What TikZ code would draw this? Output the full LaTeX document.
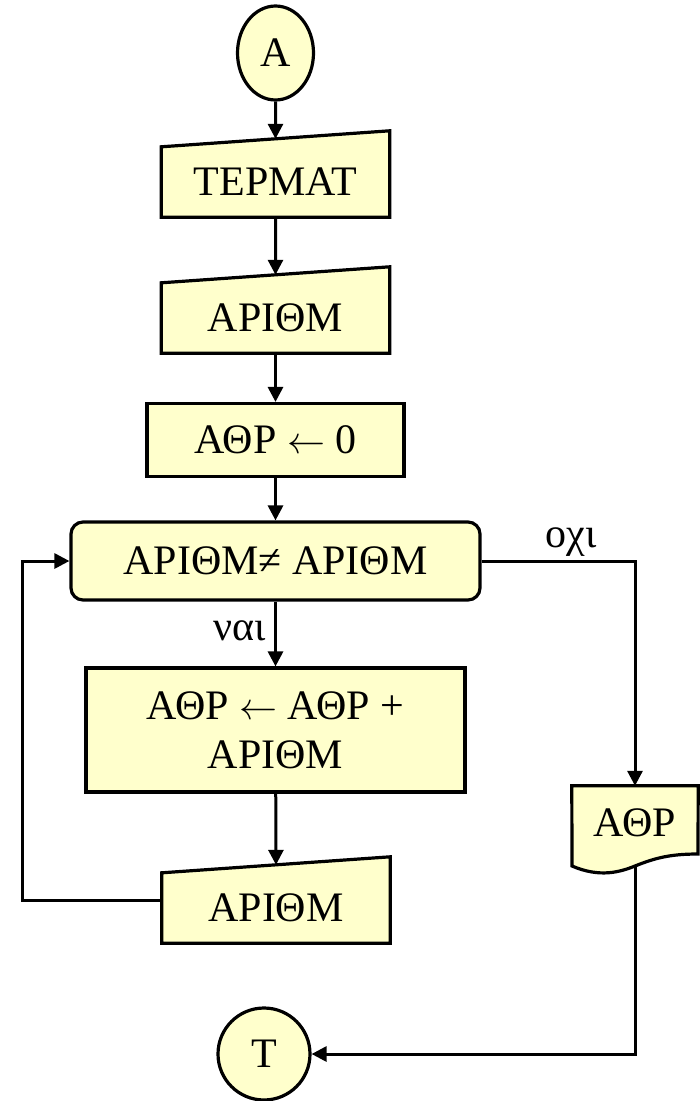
\documentclass[tikz,border=0pt]{standalone}
\usepackage{graphicx}
\usepackage{fontspec}
\setmainfont{Liberation Serif}
\usetikzlibrary{arrows.meta,shapes.geometric,calc,backgrounds}
\definecolor{fillc}{HTML}{FFFFCC}
\newcommand{\larr}{\scalebox{3.8}{\fontsize{10}{12}\selectfont$\leftarrow$}}
\begin{document}
\begin{tikzpicture}[x=1pt,y=-1pt,
  txt/.style={font=\fontsize{42}{49}\selectfont,inner sep=0pt,align=center},
  shapeline/.style={draw=black,line width=3.2pt,fill=fillc,line join=miter},
  flowbox/.style={shapeline,txt},
  conn/.style={line width=3pt,-{Triangle[length=15pt,width=15pt]}},
  lbl/.style={font=\fontsize{42}{48}\selectfont,inner sep=0pt}]
\useasboundingbox (0,0) rectangle (700,1101);

% nodes
\node[flowbox,ellipse,minimum width=76pt,minimum height=94pt] (A) at (275.5,53) {Α};
\node[txt,minimum width=228pt,minimum height=70pt] (termat) at (275.5,182) {ΤΕΡΜΑΤ};
\node[txt,minimum width=228pt,minimum height=70pt] (arithmA) at (275.5,318) {ΑΡΙΘΜ};
\node[flowbox,minimum width=257pt,minimum height=73pt] (athr0) at (275.5,440) {ΑΘΡ \larr{} 0};
\node[flowbox,rounded corners=12pt,minimum width=409pt,minimum height=78pt] (dec) at (275.5,561) {ΑΡΙΘΜ≠ ΑΡΙΘΜ};
\node[flowbox,minimum width=379pt,minimum height=124pt] (proc) at (275.5,730) {ΑΘΡ \larr{} ΑΘΡ +\\ΑΡΙΘΜ};
\node[txt,minimum width=228pt,minimum height=70pt] (arithmB) at (276,908) {ΑΡΙΘΜ};
\node[txt,minimum width=126pt,minimum height=74pt] (doc) at (635,823) {ΑΘΡ};
\node[flowbox,circle,minimum size=92pt] (T) at (264,1054) {Τ};
\node[lbl,anchor=base east] (yes) at (266,640) {ναι};
\node[lbl,anchor=base] (no) at (571,547) {οχι};

% custom shapes behind their text
\begin{scope}[on background layer]
  \draw[shapeline] (termat.south west) -- (termat.north west) -- ([yshift=16pt]termat.north east) -- (termat.south east) -- cycle;
  \draw[shapeline] (arithmA.south west) -- (arithmA.north west) -- ([yshift=16pt]arithmA.north east) -- (arithmA.south east) -- cycle;
  \draw[shapeline] (arithmB.south west) -- (arithmB.north west) -- ([yshift=16pt]arithmB.north east) -- (arithmB.south east) -- cycle;
  \draw[shapeline] (doc.north west) -- (doc.north east) -- (698,854)
     .. controls (670,854) and (655,858) .. (635,866)
     .. controls (620,872) and (600,878) .. (572,866) -- cycle;
\end{scope}

% connector end points
\coordinate (termatIn) at ($(termat.north west)!0.5!([yshift=16pt]termat.north east)$);
\coordinate (arithmAIn) at ($(arithmA.north west)!0.5!([yshift=16pt]arithmA.north east)$);
\coordinate (arithmBIn) at ($(arithmB.north west)!0.5!([yshift=16pt]arithmB.north east)$);
\coordinate (arithmBW) at ([yshift=8pt]arithmB.west);
\coordinate (docOut) at (635,867);

% connectors
\draw[conn] (A) -- (termatIn);
\draw[conn] (termat.south) -- (arithmAIn);
\draw[conn] (arithmA.south) -- (athr0);
\draw[conn] (athr0) -- (dec);
\draw[conn] (dec) -- (proc);
\draw[conn] (proc) -- (arithmBIn);
\draw[conn] (arithmBW) -- ++(-139,0) |- (dec.west);
\draw[conn] (dec.east) -| (doc.north);
\draw[conn] (docOut) |- (T);
\end{tikzpicture}
\end{document}
